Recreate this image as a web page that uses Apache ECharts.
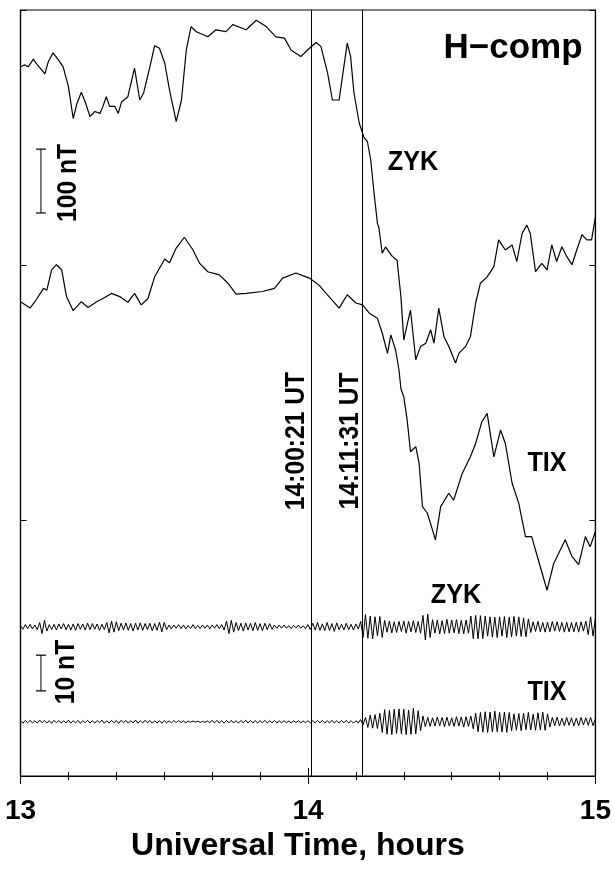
<!DOCTYPE html>
<html><head><meta charset="utf-8">
<script src="https://cdn.jsdelivr.net/npm/echarts@6/dist/echarts.min.js"></script>
<style>html,body{margin:0;padding:0;background:#fff}#c{width:614px;height:871px}</style>
</head><body><div id="c"></div>
<script>
// ---------------- DATA ----------------
const X_MIN = 13, X_MAX = 15;              // hours UT
// ZYK H-component (minutes after 13:00 UT, nT on plot scale)
const ZYK_T = [0,0.9,1.6,2.7,3.2,4.1,5.1,5.8,6.8,7.9,8.9,10.0,11.0,11.8,12.7,13.6,14.5,15.5,16.6,17.2,17.9,18.6,19.7,20.4,21.1,22.4,23.8,24.9,25.7,27.0,28.0,29.0,30.1,31.1,32.5,33.6,34.6,35.6,36.7,39.1,40.8,42.9,44.3,47.1,49.2,51.3,53.3,55.1,56.5,58.5,60.3,61.7,62.7,64.1,65.1,66.5,67.2,68.2,68.9,69.6,70.7,71.7,72.4,73.1,73.8,74.5,74.8,75.5,76.2,76.9,77.6,78.6,79.4,80.0,80.7,81.4,82.5,83.5,84.6,85.6,86.3,87.3,88.4,89.4,90.8,91.5,92.9,93.9,95.0,96.0,97.4,98.8,99.8,101.2,102.6,103.6,104.7,105.7,106.4,107.5,108.8,109.9,110.9,111.9,113.0,114.0,115.1,116.1,117.2,118.2,119.2,120.0];
const ZYK_H = [1111,1114,1111,1123,1117,1109,1100,1119,1133,1122,1111,1080,1030,1054,1071,1054,1033,1041,1038,1049,1064,1049,1049,1038,1056,1064,1109,1059,1070,1111,1144,1140,1117,1075,1025,1059,1137,1174,1166,1158,1169,1166,1177,1169,1184,1174,1158,1156,1137,1127,1140,1149,1143,1101,1059,1059,1096,1148,1127,1070,1023,1000,994,965,913,866,859,819,829,821,814,808,751,683,707,730,652,673,678,699,678,733,688,673,647,662,673,688,741,772,782,798,840,824,832,806,850,863,850,790,803,793,832,806,829,814,801,824,848,840,840,876];
// TIX H-component
const TIX_T = [0,2.0,3.0,4.8,5.5,6.5,7.5,8.6,9.6,11.0,12.7,14.1,15.9,17.2,19.0,20.7,22.4,23.8,25.2,26.6,28.0,30.1,31.1,32.5,34.2,36.0,37.4,39.1,41.5,43.3,45.0,47.1,50.5,53.0,54.7,57.5,60.3,62.3,64.4,66.5,68.2,70.0,71.4,72.8,74.5,75.5,76.6,77.3,78.3,79.0,79.4,80.0,80.7,81.4,82.5,83.2,83.9,84.9,85.9,86.6,87.7,89.4,90.4,92.2,93.9,95.0,96.3,97.4,98.8,100.2,101.2,102.6,104.0,105.4,106.7,108.1,109.9,111.3,113.7,115.1,116.5,117.9,118.9,120.0];
const TIX_H = [743,733,743,764,761,793,801,793,751,729,743,734,743,748,756,751,742,756,738,748,782,810,804,827,844,824,803,790,785,772,755,756,759,764,780,788,780,769,751,733,754,741,738,725,717,694,662,691,667,636,607,594,558,508,516,490,422,412,388,370,422,443,432,474,500,521,555,568,500,542,521,459,427,375,375,338,291,333,370,344,331,375,359,383];
// band-pass filtered H (nT), one sample every half minute from 13:00
const FILT_STEP_MIN = 0.5;
const ZYK_F = [0.3,-0.7,0.6,-0.5,0.7,-0.6,0.5,-0.8,1.2,-1.9,
1.8,-1.2,0.6,-0.8,0.7,-0.9,0.8,-0.6,0.9,-0.8,
0.7,-0.9,0.8,-1.0,0.9,-0.7,0.8,-0.9,1.0,-0.8,
0.9,-0.7,0.8,-1.0,0.7,-0.8,1.2,-1.7,1.6,-1.5,
1.4,-1.1,1.0,-0.9,1.1,-1.0,0.9,-1.2,1.0,-0.9,
1.1,-1.0,0.9,-0.8,1.0,-1.1,0.9,-1.0,1.3,-1.4,
1.2,-0.8,0.5,-0.6,0.5,-0.4,0.6,-0.5,0.5,-0.6,
0.4,-0.5,0.6,-0.5,0.4,-0.5,0.5,-0.4,0.5,-0.6,
0.5,-0.4,0.6,-0.5,0.6,-0.9,1.6,-1.9,1.8,-1.5,
1.2,-1.1,1.0,-1.2,1.1,-0.9,1.0,-1.1,1.2,-1.0,
0.9,-1.1,1.0,-0.8,0.9,-0.7,0.5,-0.4,0.5,-0.4,
0.5,-0.4,0.3,-0.5,0.4,-0.3,0.5,-0.4,0.3,-0.5,
0.6,-0.8,1.0,-0.9,1.2,-1.0,0.8,-1.1,1.2,-1.0,
0.9,-1.3,1.1,-0.8,0.7,-0.9,1.0,-0.8,0.7,-0.9,
0.8,-0.6,1.5,-3.0,3.4,-3.2,3.0,-3.4,2.8,-2.5,
2.9,-3.0,1.8,-1.5,1.6,-1.7,1.4,-1.6,1.5,-1.3,
1.6,-1.8,1.5,-1.4,1.7,-1.6,1.5,-1.8,3.2,-3.7,
3.6,-3.0,2.0,-1.8,1.9,-2.0,1.7,-1.9,2.1,-1.8,
1.9,-1.7,2.0,-1.9,1.8,-2.0,1.9,-1.8,3.0,-3.3,
3.2,-3.4,3.1,-3.3,3.0,-2.6,2.8,-2.9,2.7,-3.0,
2.8,-2.6,2.9,-3.0,2.7,-2.8,2.9,-2.6,2.8,-2.7,
2.5,-2.8,2.2,-1.6,1.4,-1.3,1.5,-1.4,1.2,-1.5,
1.3,-1.4,1.5,-1.2,1.4,-1.3,1.2,-1.5,1.3,-1.4,
1.2,-1.4,1.3,-1.5,1.4,-1.2,1.6,-2.2,2.8,-2.6,
2.4];
const TIX_F = [0.3,-0.4,0.35,-0.3,0.4,-0.35,0.3,-0.4,0.45,-0.3,
0.4,-0.35,0.3,-0.45,0.4,-0.3,0.35,-0.4,0.3,-0.35,
0.45,-0.4,0.3,-0.35,0.4,-0.45,0.35,-0.3,0.4,-0.35,
0.3,-0.4,0.35,-0.3,0.45,-0.4,0.3,-0.35,0.4,-0.3,
0.35,-0.45,0.4,-0.3,0.35,-0.4,0.3,-0.35,0.45,-0.4,
0.3,-0.35,0.4,-0.3,0.35,-0.4,0.3,-0.35,0.3,-0.4,
0.35,-0.3,0.25,-0.3,0.35,-0.25,0.3,-0.2,0.25,-0.3,
0.2,-0.15,0.2,-0.1,0.15,-0.2,0.1,-0.15,0.2,-0.25,
0.35,-0.3,0.4,-0.35,0.3,-0.4,0.35,-0.3,0.4,-0.35,
0.3,-0.4,0.35,-0.3,0.4,-0.35,0.3,-0.25,0.3,-0.35,
0.3,-0.25,0.35,-0.3,0.25,-0.3,0.35,-0.3,0.25,-0.3,
0.3,-0.25,0.2,-0.3,0.25,-0.2,0.3,-0.25,0.2,-0.25,
0.3,-0.35,0.3,-0.25,0.35,-0.3,0.4,-0.35,0.3,-0.35,
0.4,-0.35,0.3,-0.4,0.35,-0.3,0.4,-0.35,0.3,-0.4,
0.3,-0.3,0.6,-0.9,1.2,-1.6,1.9,-1.8,2.0,-1.9,
2.4,-3.0,3.4,-3.5,3.2,-3.6,3.5,-3.3,3.6,-3.4,
3.5,-3.6,3.3,-3.5,3.8,-3.4,3.1,-2.5,1.6,-1.4,
1.2,-1.3,1.1,-1.2,1.3,-1.1,1.2,-1.4,1.3,-1.2,
1.1,-1.3,1.4,-1.2,1.3,-1.5,1.4,-1.3,1.6,-2.0,
2.4,-2.8,2.6,-2.9,2.8,-3.0,2.7,-2.9,3.0,-2.8,
2.6,-2.9,2.7,-3.0,2.6,-2.5,2.2,-2.4,2.3,-2.5,
2.4,-2.2,2.6,-2.3,2.1,-2.4,2.5,-2.3,2.7,-2.4,
2.2,-1.5,1.2,-1.1,1.3,-1.2,1.0,-1.1,1.2,-1.0,
1.1,-1.2,1.0,-1.1,1.2,-0.9,1.1,-1.0,1.2,-1.1,
0.8];
// event times (hours) and their labels
const EVENT_TIMES = [14 + 0/60 + 21/3600, 14 + 11/60 + 31/3600];
const EVENT_LABELS = ['14:00:21 UT', '14:11:31 UT'];
// scale bars (nT)
const SCALE_MAIN_NT = 100;
const SCALE_FILT_NT = 10;

// ---------------- LAYOUT ----------------
const FONT = '"Liberation Sans", Arial, Helvetica, sans-serif';
const MAIN_MAX = 1200;          // nT span of the full panel (upper traces)
const FILT_MAX = 214.6;         // nT span of the full panel (filtered traces)
const ZYK_F_BASE = 41.8, TIX_F_BASE = 15.2;
const BAR_X = 13.0711;
const MAIN_BAR_LOW = 882, FILT_BAR_LOW = 23.85;

const toHour = m => X_MIN + m / 60;
const zykData = ZYK_T.map((m, i) => [toHour(m), ZYK_H[i]]);
const tixData = TIX_T.map((m, i) => [toHour(m), TIX_H[i]]);
const zykFData = ZYK_F.map((v, i) => [toHour(i * FILT_STEP_MIN), ZYK_F_BASE + v]);
const tixFData = TIX_F.map((v, i) => [toHour(i * FILT_STEP_MIN), TIX_F_BASE + v]);

const chart = echarts.init(document.getElementById('c'), null, {renderer: 'canvas'});

function label(text, x, y, size, rot, sx) {
  return {
    type: 'text', x: x, y: y, rotation: rot || 0, scaleX: sx || 1,
    style: {text: text, fill: '#000', font: 'bold ' + size + 'px ' + FONT,
            textAlign: 'center', textVerticalAlign: 'middle'}
  };
}

const lineBase = {type: 'line', showSymbol: false, symbol: 'none', animation: false,
  lineStyle: {color: '#000', width: 1.2}, silent: true};

const option = {
  animation: false,
  backgroundColor: '#fff',
  grid: {left: 20.5, right: 17, top: 10, bottom: 95, show: true, borderColor: '#000', borderWidth: 1.2},
  xAxis: [{
    type: 'value', min: X_MIN, max: X_MAX, interval: 1, position: 'bottom',
    axisLine: {show: true, lineStyle: {color: '#000', width: 1.2}},
    axisTick: {show: true, inside: true, length: 8, lineStyle: {color: '#000'}},
    minorTick: {show: true, splitNumber: 6, length: 4, lineStyle: {color: '#000'}},
    splitLine: {show: false},
    axisLabel: {show: true, color: '#000', fontSize: 28, fontWeight: 'bold', fontFamily: FONT, margin: 21},
    name: 'Universal Time, hours', nameLocation: 'middle', nameGap: 54,
    nameTextStyle: {color: '#000', fontSize: 32, fontWeight: 'bold', fontFamily: FONT, padding: [0, 20, 0, 0]}
  }, {
    type: 'value', min: X_MIN, max: X_MAX, interval: 1, position: 'top',
    axisLine: {show: true, lineStyle: {color: '#000', width: 1.2}},
    axisTick: {show: true, inside: true, length: 8, lineStyle: {color: '#000'}},
    minorTick: {show: true, splitNumber: 6, length: 4, lineStyle: {color: '#000'}},
    splitLine: {show: false}, axisLabel: {show: false}
  }],
  yAxis: [{
    type: 'value', min: 0, max: MAIN_MAX, interval: 400, position: 'left',
    axisLine: {show: true, lineStyle: {color: '#000', width: 1.2}},
    axisTick: {show: true, inside: true, length: 6, lineStyle: {color: '#000'}},
    splitLine: {show: false}, axisLabel: {show: false}
  }, {
    type: 'value', min: 0, max: FILT_MAX, show: false, splitLine: {show: false}
  }, {
    type: 'value', min: 0, max: MAIN_MAX, interval: 400, position: 'right',
    axisLine: {show: true, lineStyle: {color: '#000', width: 1.2}},
    axisTick: {show: true, inside: true, length: 6, lineStyle: {color: '#000'}},
    splitLine: {show: false}, axisLabel: {show: false}
  }],
  series: [
    Object.assign({}, lineBase, {name: 'ZYK', data: zykData, yAxisIndex: 0,
      markLine: {silent: true, symbol: 'none', animation: false,
        lineStyle: {color: '#000', width: 1, type: 'solid'}, label: {show: false},
        data: EVENT_TIMES.map(t => ({xAxis: t}))}}),
    Object.assign({}, lineBase, {name: 'TIX', data: tixData, yAxisIndex: 0}),
    Object.assign({}, lineBase, {name: 'ZYK filtered', data: zykFData, yAxisIndex: 1, lineStyle: {color: '#000', width: 1}}),
    Object.assign({}, lineBase, {name: 'TIX filtered', data: tixFData, yAxisIndex: 1, lineStyle: {color: '#000', width: 1}}),
    {type: 'line', yAxisIndex: 0, animation: false, silent: true, symbol: 'rect', symbolSize: [10, 1.2], showSymbol: true,
      itemStyle: {color: '#000'}, lineStyle: {color: '#000', width: 1},
      data: [[BAR_X, MAIN_BAR_LOW], [BAR_X, MAIN_BAR_LOW + SCALE_MAIN_NT]]},
    {type: 'line', yAxisIndex: 1, animation: false, silent: true, symbol: 'rect', symbolSize: [10, 1.2], showSymbol: true,
      itemStyle: {color: '#000'}, lineStyle: {color: '#000', width: 1},
      data: [[BAR_X, FILT_BAR_LOW], [BAR_X, FILT_BAR_LOW + SCALE_FILT_NT]]}
  ],
  graphic: [
    label('H\u2212comp', 513, 48, 35),
    label('ZYK', 413, 162, 28, 0, 0.9),
    label('TIX', 547, 463, 28, 0, 0.9),
    label('ZYK', 456, 595, 28, 0, 0.9),
    label('TIX', 547, 692, 28, 0, 0.9),
    label(SCALE_MAIN_NT + ' nT', 68.5, 183, 28, Math.PI / 2, 0.88),
    label(SCALE_FILT_NT + ' nT', 66, 672, 28, Math.PI / 2, 0.88),
    label(EVENT_LABELS[0], 296, 441, 28, Math.PI / 2, 0.88),
    label(EVENT_LABELS[1], 350, 441, 28, Math.PI / 2, 0.88)
  ]
};
chart.setOption(option);
</script>
</body></html>
